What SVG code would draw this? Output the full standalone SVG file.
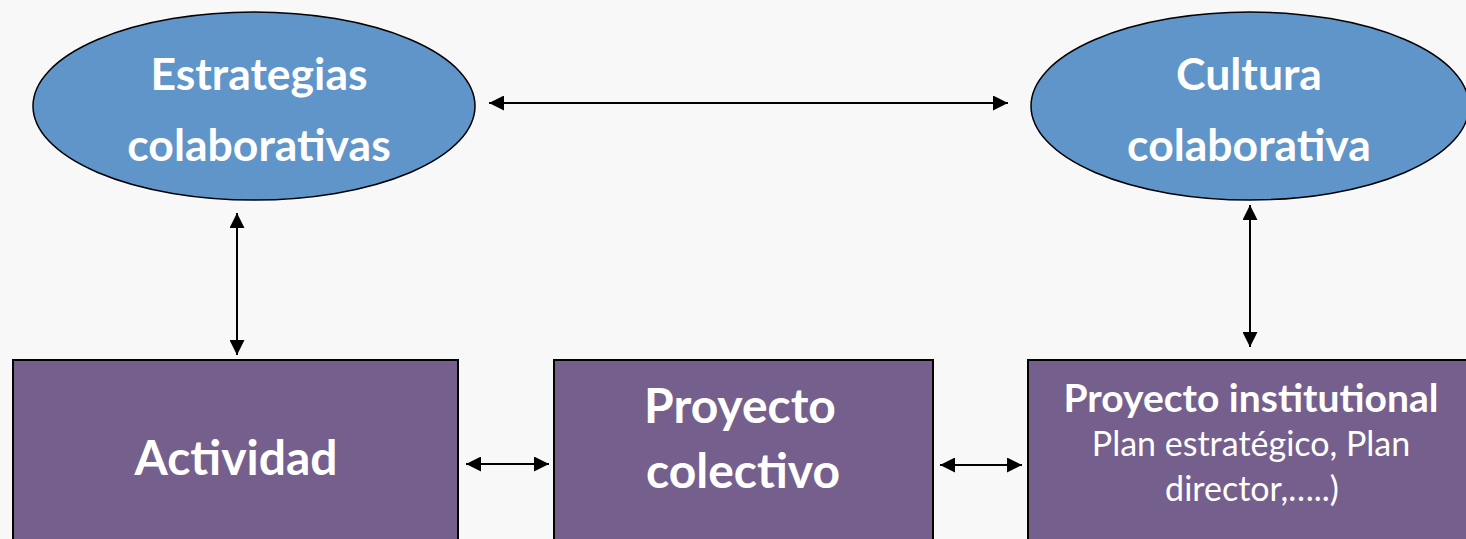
<svg xmlns="http://www.w3.org/2000/svg" width="1466" height="539" viewBox="0 0 1466 539">
<style>
.ell{fill:#6095c9;stroke:#000;stroke-width:1.5}
.box{fill:#75608d;stroke:#000;stroke-width:2}
.t{font-family:Lato,"Open Sans","Liberation Sans",sans-serif;fill:#fff;text-anchor:middle}
.b{font-weight:700}
.con line{stroke:#000;stroke-width:2}
</style>
<defs>
<marker id="ah" viewBox="0 0 10 10" refX="10" refY="5" markerWidth="15" markerHeight="15" markerUnits="userSpaceOnUse" orient="auto-start-reverse">
<path d="M0,0 L10,5 L0,10 z" fill="#000"/>
</marker>
</defs>
<rect x="0" y="0" width="1466" height="539" fill="#f8f8f8"/>
<g id="estrategias">
<ellipse class="ell" cx="254" cy="106" rx="221" ry="94"/>
<text class="t b" x="259" y="90" font-size="44.5">Estrategias</text>
<text class="t b" x="259" y="161" font-size="44.5">colaborativas</text>
</g>
<g id="cultura">
<ellipse class="ell" cx="1250" cy="106" rx="219" ry="94"/>
<text class="t b" x="1249" y="90" font-size="44.5">Cultura</text>
<text class="t b" x="1249" y="161" font-size="44.5">colaborativa</text>
</g>
<g id="actividad">
<rect class="box" x="13" y="360" width="445" height="190"/>
<text class="t b" x="236" y="475" font-size="48">Actividad</text>
</g>
<g id="proyecto-colectivo">
<rect class="box" x="554" y="360" width="379" height="190"/>
<text class="t b" x="740" y="423" font-size="48">Proyecto</text>
<text class="t b" x="743" y="488" font-size="48">colectivo</text>
</g>
<g id="proyecto-institutional">
<rect class="box" x="1028" y="360" width="450" height="190"/>
<text class="t b" x="1251" y="412" font-size="39">Proyecto institutional</text>
<text class="t" x="1251" y="456" font-size="34">Plan estratégico, Plan</text>
<text class="t" x="1252" y="501" font-size="34">director,…..)</text>
</g>
<g class="con" id="connectors">
<line x1="489" y1="103" x2="1008" y2="103" marker-start="url(#ah)" marker-end="url(#ah)"/>
<line x1="237" y1="213" x2="237" y2="355" marker-start="url(#ah)" marker-end="url(#ah)"/>
<line x1="1250" y1="205" x2="1250" y2="347" marker-start="url(#ah)" marker-end="url(#ah)"/>
<line x1="466" y1="464" x2="549" y2="464" marker-start="url(#ah)" marker-end="url(#ah)"/>
<line x1="940" y1="465" x2="1022" y2="465" marker-start="url(#ah)" marker-end="url(#ah)"/>
</g>
</svg>
